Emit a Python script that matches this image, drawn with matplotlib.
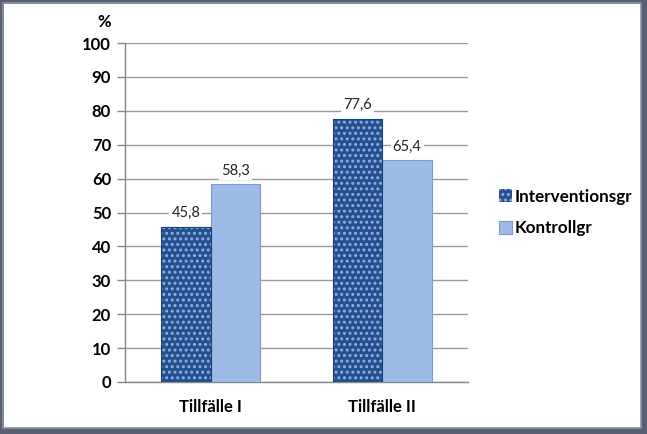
import matplotlib
matplotlib.use("Agg")
import matplotlib.pyplot as plt
from matplotlib.patches import Rectangle
import numpy as np

categories = ["Tillfälle I", "Tillfälle II"]
series_names = ["Interventionsgr", "Kontrollgr"]
interv = [45.8, 77.6]
kontroll = [58.3, 65.4]
yticks = [0, 10, 20, 30, 40, 50, 60, 70, 80, 90, 100]

plt.rcParams['font.family'] = ['Lato', 'DejaVu Sans']
plt.rcParams['hatch.linewidth'] = 1.4

fig = plt.figure(figsize=(6.47, 4.34), dpi=100)
fig.patch.set_facecolor('white')
ax = fig.add_axes([125/647, 1-382/434, 343/647, 339/434])

x = np.arange(len(categories))
w = 0.29
b1 = ax.bar(x - w/2, interv, w, color='#24508F', edgecolor='#8FB0E0', hatch='...',
            linewidth=0, zorder=3)
for r in b1:
    ax.add_patch(Rectangle(r.get_xy(), r.get_width(), r.get_height(), fill=False,
                           edgecolor='#1A3F73', linewidth=0.8, zorder=4))
b2 = ax.bar(x + w/2, kontroll, w, color='#9DBBE6', edgecolor='#7A9BCB', linewidth=0.8, zorder=3)

for xi, v in zip(x - w/2, interv):
    ax.text(xi, v + 4, f"{v:.1f}".replace('.', ','), ha='center', va='center', fontsize=10.5,
            bbox=dict(facecolor='white', edgecolor='none', pad=1.5), zorder=5, color='#222222')
for xi, v in zip(x + w/2, kontroll):
    ax.text(xi, v + 4, f"{v:.1f}".replace('.', ','), ha='center', va='center', fontsize=10.5,
            bbox=dict(facecolor='white', edgecolor='none', pad=1.5), zorder=5, color='#222222')

ax.set_xlim(-0.5, 1.5)
ax.set_ylim(0, 100)
ax.set_yticks(yticks)
ax.set_yticklabels([str(t) for t in yticks], fontsize=12, fontweight='bold')
ax.set_xticks(x)
ax.set_xticklabels(categories, fontsize=12, fontweight='bold')
ax.tick_params(axis='x', length=0, pad=12)
ax.tick_params(axis='y', length=6, width=1, color='#888888', pad=4)
ax.grid(axis='y', color='#999999', linewidth=1, zorder=0)
for s in ['top', 'right']:
    ax.spines[s].set_visible(False)
ax.spines['left'].set_color('#888888')
ax.spines['bottom'].set_color('#888888')
ax.spines['left'].set_linewidth(1)
ax.spines['bottom'].set_linewidth(1)

ax.text(-0.06, 1.062, "%", transform=ax.transAxes, fontsize=12, fontweight='bold',
        ha='center', va='center')

leg = ax.legend([b1, b2], series_names, loc='center left', bbox_to_anchor=(1.045, 0.5),
                frameon=False, handlelength=0.8, handleheight=0.8,
                handletextpad=0.15, labelspacing=0.9, prop={'weight': 'bold', 'size': 12.3})

# frame
fig.add_artist(Rectangle((0, 0), 1, 1, transform=fig.transFigure, fill=False,
                         edgecolor='#5A6070', linewidth=5))
fig.add_artist(Rectangle((641/647, 0), 6/647, 1, transform=fig.transFigure, fill=True,
                         facecolor='#5A6070', edgecolor='none'))
fig.add_artist(Rectangle((0, 0), 1, 6/434, transform=fig.transFigure, fill=True,
                         facecolor='#5A6070', edgecolor='none'))
fig.add_artist(Rectangle((2.5/647, 6/434), 638.5/647, 425.5/434, transform=fig.transFigure, fill=False,
                         edgecolor='#8A93A6', linewidth=1.2))

fig.savefig("out.png", dpi=100, facecolor='white')
